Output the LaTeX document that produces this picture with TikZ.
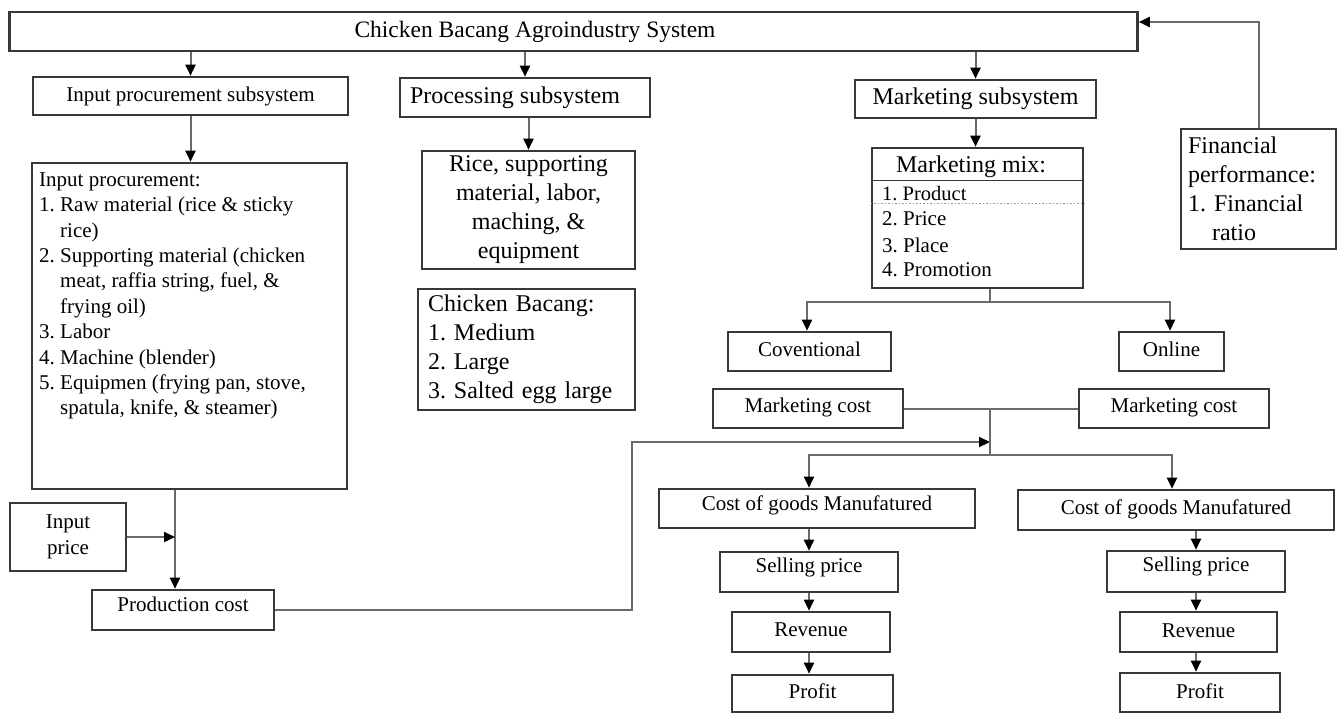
\documentclass[tikz,border=0pt]{standalone}
\usepackage{fontspec}
\setmainfont{Liberation Serif}
\usetikzlibrary{arrows.meta,calc}
\definecolor{boxc}{HTML}{383838}
\definecolor{linec}{HTML}{6A6A6A}
\begin{document}
\frenchspacing
\begin{tikzpicture}[x=1pt,y=-1pt,
  box/.style={draw=boxc,line width=2.6pt,inner sep=0pt,rectangle,font=\fontsize{21}{25.4}\selectfont},
  sbox/.style={box,text height=15pt,text depth=5pt},
  rz/.style={text depth=#1},
  big/.style={font=\fontsize{24}{29}\selectfont},
  txt/.style={inner sep=0pt,font=\fontsize{21}{25.4}\selectfont},
  conn/.style={draw=linec,line width=2pt},
  arr/.style={conn,-{Triangle[length=11pt,width=10pt,color=black]}},
]
\useasboundingbox (0,0) rectangle (1338,713);

% top level
\node[box,font=\fontsize{23.5}{28}\selectfont,minimum width=1128pt,minimum height=39pt] (top) at (573.5,31.5) {\hspace*{-77pt}Chicken Bacang Agroindustry System};

% subsystems
\node[sbox,minimum width=315pt,minimum height=38pt] (insub) at (190.5,96) {Input procurement subsystem};
\node[box,big,minimum width=250pt,minimum height=39pt] (procsub) at (525,97.5) {\hspace*{-20pt}Processing subsystem};
\node[box,big,minimum width=241pt,minimum height=38pt] (mktsub) at (975.5,99) {Marketing subsystem};

% input procurement
\node[box,minimum width=315pt,minimum height=326pt] (inproc) at (189.5,326) {};
\node[txt,align=left,anchor=west] (inproctxt) at (39,296) {Input procurement:\\
1. Raw material (rice \& sticky\\
\hspace*{21pt}rice)\\
2. Supporting material (chicken\\
\hspace*{21pt}meat, raffia string, fuel, \&\\
\hspace*{21pt}frying oil)\\
3. Labor\\
4. Machine (blender)\\
5. Equipmen (frying pan, stove,\\
\hspace*{21pt}spatula, knife, \& steamer)};

% processing
\node[box,big,align=center,minimum width=213pt,minimum height=118pt] (rice) at (528.5,210) {Rice, supporting\\material, labor,\\maching, \&\\equipment};
\node[box,big,align=left,text width=197pt,inner xsep=10pt,minimum height=121pt] (chick) at (526.5,349.5) {Chicken Bacang:\\1. Medium\\2. Large\\3. Salted egg large};

% marketing mix
\node[box,minimum width=211pt,minimum height=140pt] (mix) at (977.5,218) {};
\node[txt,big] (mixtitle) at (971,167) {Marketing mix:};
\draw[draw=boxc,line width=1.2pt] ($(mix.north west)+(0,34)$) -- ($(mix.north east)+(0,34)$);
\draw[draw=gray!80,line width=1.5pt,dotted] ($(mix.north west)+(0,57)$) -- ($(mix.north east)+(0,57)$);
\node[txt,anchor=west,font=\fontsize{20.5}{24}\selectfont] (mp1) at (882,194) {1. Product};
\node[txt,anchor=west] (mp2) at (882,219) {2. Price};
\node[txt,anchor=west] (mp3) at (882,245) {3. Place};
\node[txt,anchor=west] (mp4) at (882,270) {4. Promotion};

% financial performance
\node[box,big,align=left,text width=141pt,inner xsep=7pt,minimum height=120pt] (fin) at (1258.5,189) {Financial\\performance:\\1. Financial\\\hspace*{24pt}ratio};

% costs
\node[box,align=center,minimum width=116pt,minimum height=68pt] (inprice) at (68,537) {Input\\price};
\node[sbox,rz=13pt,minimum width=182pt,minimum height=40pt] (prodcost) at (183,610) {Production cost};

\node[sbox,minimum width=163pt,minimum height=39pt] (conv) at (809.5,351.5) {Coventional};
\node[sbox,minimum width=105pt,minimum height=39pt] (online) at (1171.5,351.5) {Online};
\node[sbox,rz=8pt,minimum width=190pt,minimum height=39pt] (mc1) at (808,408.5) {Marketing cost};
\node[sbox,rz=8pt,minimum width=190pt,minimum height=39pt] (mc2) at (1174,408.5) {Marketing cost};

\node[sbox,rz=12pt,minimum width=316pt,minimum height=39pt] (cogm1) at (817,508.5) {Cost of goods Manufatured};
\node[sbox,rz=7pt,minimum width=316pt,minimum height=40pt] (cogm2) at (1176,510) {Cost of goods Manufatured};
\node[sbox,rz=15pt,minimum width=178pt,minimum height=40pt] (sp1) at (809,572) {Selling price};
\node[sbox,rz=16pt,minimum width=178pt,minimum height=41pt] (sp2) at (1196,571.5) {Selling price};
\node[sbox,rz=7pt,minimum width=158pt,minimum height=40pt] (rev1) at (811,632) {Revenue};
\node[sbox,rz=5pt,minimum width=157pt,minimum height=40pt] (rev2) at (1198.5,632) {Revenue};
\node[sbox,rz=6pt,minimum width=161pt,minimum height=37pt] (prof1) at (812.5,693.5) {Profit};
\node[sbox,rz=4pt,minimum width=160pt,minimum height=39pt] (prof2) at (1200,692.5) {Profit};

% helper coordinates
\coordinate (vx) at ([xshift=-14.5pt]inproc.south);
\coordinate (bend) at (632,442);
\coordinate (jmid) at (990,442);
\coordinate (msplit) at (990,302);
\coordinate (jt) at (990,408.5);
\coordinate (jb) at (990,455);

% connectors
\draw[arr] (insub.north |- top.south) -- (insub.north);
\draw[arr] (procsub.north |- top.south) -- (procsub.north);
\draw[arr] (mktsub.north |- top.south) -- (mktsub.north);
\draw[arr] (fin.north) |- ([yshift=9.5pt]top.east);

\draw[arr] (insub.south) -- (insub.south |- inproc.north);
\draw[arr] (rice.north |- procsub.south) -- (rice.north);
\draw[arr] (mktsub.south) -- (mktsub.south |- mix.north);

\draw[arr] (vx) -- (vx |- prodcost.north);
\draw[arr] (inprice.east) -- (inprice.east -| vx);
\draw[arr] (prodcost.east) -| (bend) -- (jmid);

\draw[conn] (mix.south -| msplit) -- (msplit);
\draw[arr] (msplit) -| ([xshift=-2.5pt]conv.north);
\draw[arr] (msplit) -| ([xshift=-1.5pt]online.north);

\draw[conn] (mc1.east) -- (mc2.west);
\draw[conn] (jt) -- (jb);
\draw[arr] (jb) -| ([xshift=-8pt]cogm1.north);
\draw[arr] (jb) -| ([xshift=-4pt]cogm2.north);

\draw[arr] (sp1.north |- cogm1.south) -- (sp1.north);
\draw[arr] (sp1.south) -- (sp1.south |- rev1.north);
\draw[arr] (sp1.south |- rev1.south) -- (sp1.south |- prof1.north);

\draw[arr] (sp2.north |- cogm2.south) -- (sp2.north);
\draw[arr] (sp2.south) -- (sp2.south |- rev2.north);
\draw[arr] (sp2.south |- rev2.south) -- (sp2.south |- prof2.north);
\end{tikzpicture}
\end{document}
